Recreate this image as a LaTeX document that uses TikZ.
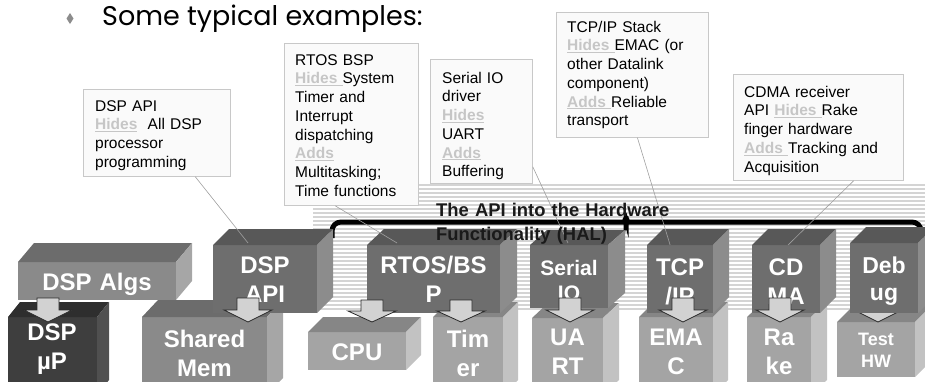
\documentclass[tikz,border=0pt]{standalone}
\usepackage{fontspec}
\setmainfont{Liberation Sans}
\newfontfamily\titlefont{Poppins}
\usetikzlibrary{calc}

\definecolor{stripecol}{HTML}{D4D4D4}
\definecolor{boxfill}{HTML}{FAFAFA}
\definecolor{boxline}{HTML}{C8C8C8}
\definecolor{hidecol}{HTML}{C6C6C6}
\definecolor{leadcol}{HTML}{A0A0A0}
\definecolor{arrowfill}{HTML}{D2D2D2}
\definecolor{arrowline}{HTML}{2A2A2A}
\definecolor{bulletcol}{HTML}{8C8C8C}
\definecolor{halcol}{HTML}{1A1A1A}
% block palettes: front / top / side faces
\definecolor{midfront}{HTML}{8A8A8A}\definecolor{midtop}{HTML}{6C6C6C}\definecolor{midside}{HTML}{A6A6A6}
\definecolor{darkfront}{HTML}{3E3E3E}\definecolor{darktop}{HTML}{2E2E2E}\definecolor{darkside}{HTML}{505050}
\definecolor{upfront}{HTML}{6E6E6E}\definecolor{uptop}{HTML}{585858}\definecolor{upside}{HTML}{8C8C8C}
\definecolor{lightfront}{HTML}{A4A4A4}\definecolor{lighttop}{HTML}{868686}\definecolor{lightside}{HTML}{C2C2C2}

\newcommand\hl[1]{\textcolor{hidecol}{\bfseries\underline{#1}}}

\tikzset{
  cubefront/.style={inner sep=0pt, outer sep=0pt, draw=none, anchor=north west},
  cubelabel/.style={text=white, font=\bfseries\fontsize{24}{29}\selectfont, align=center,
    text width=#1, inner sep=0pt, anchor=base},
  callbox/.style={draw=boxline, fill=boxfill, line width=0.8pt, inner sep=0pt, anchor=north west},
  calltext/.style={font=\fontsize{15.5}{18.75}\selectfont, text width=#1, align=left,
    inner sep=0pt, anchor=base west},
  leader/.style={draw=leadcol, line width=0.6pt},
  brace/.style={line width=5pt, black, rounded corners=9pt},
  blockarrow/.style={fill=arrowfill, draw=arrowline, line width=0.8pt, line join=miter},
  stripe/.style={fill=stripecol},
}

% 3-D block: name, x1, y1, x2, y2 of the front face, depth dx, dy, palette
\newcommand\cube[8]{%
  \node[cubefront, fill=#8front, minimum width={#4-#2}, minimum height={#5-#3}] (#1) at (#2,#3) {};
  \fill[#8top] (#1.north west) -- ++(#6,#7) -- ([shift={(#6,#7)}]#1.north east) -- (#1.north east) -- cycle;
  \fill[#8side] (#1.north east) -- ++(#6,#7) -- ([shift={(#6,#7)}]#1.south east) -- (#1.south east) -- cycle;
}

% block arrow pointing down: centre x, top y, tip y
\newcommand\blockarrow[3]{%
  \draw[blockarrow] (#1-11,#2) -- (#1+11,#2) -- (#1+11,{(#2+#3)/2}) -- (#1+24,{(#2+#3)/2})
    -- (#1,#3) -- (#1-24,{(#2+#3)/2}) -- (#1-11,{(#2+#3)/2}) -- cycle;
}

\begin{document}
\begin{tikzpicture}[x=1pt,y=-1pt]
\path[use as bounding box] (0,0) rectangle (925,381);
\clip (0,0) rectangle (925,381);

% striped backdrop
\foreach \yy in {184,188,...,308} \fill[stripe] (313,\yy) rectangle (925,\yy+2);

% brace over the HAL components
\draw[brace] (332,238) -- (332,222) -- (618,222) to[out=0,in=-90] (626,211)
  to[out=-90,in=180] (634,222) -- (921,222) -- (921,238);

% lower row
\cube{dspalgs}{18}{262}{176}{300}{16}{-19}{mid}
\cube{dspup}{8}{317}{97}{395}{12}{-15}{dark}
\cube{sharedmem}{142}{317}{267}{395}{16}{-17}{mid}
\cube{cpu}{308}{332}{406}{370}{15}{-15}{light}
\cube{timer}{433}{317}{503}{395}{15}{-15}{light}
\cube{uart}{532}{318}{603}{395}{16}{-15}{light}
\cube{emac}{639}{317}{713}{395}{15}{-15}{light}
\cube{rake}{747}{317}{811}{395}{16}{-15}{light}
\cube{testhw}{837}{322}{915}{377}{16}{-16}{light}

\blockarrow{878}{298}{322}

% upper row
\cube{dspapi}{213}{245}{317}{313}{16}{-16}{up}
\cube{rtos}{367}{245}{500}{313}{17}{-16}{up}
\cube{serial}{530}{245}{608}{308}{17}{-15}{up}
\cube{tcp}{647}{245}{713}{313}{16}{-16}{up}
\cube{cdma}{752}{245}{820}{313}{16}{-16}{up}
\cube{debug}{850}{243}{918}{313}{16}{-16}{up}

% block labels
\node[cubelabel=150] (dspalgs-t) at (97,290) {DSP Algs};
\node[cubelabel=88] (dspup-t) at (52,340) {DSP\\µP};
\node[cubelabel=120] (sharedmem-t) at (204.5,347) {Shared\\Mem};
\node[cubelabel=96] (cpu-t) at (357,360) {CPU};
\node[cubelabel=70] (timer-t) at (468,347) {Tim\\er};
\node[cubelabel=70] (uart-t) at (567.5,345) {UA\\RT};
\node[cubelabel=74] (emac-t) at (676,345) {EMA\\C};
\node[cubelabel=64] (rake-t) at (779,345) {Ra\\ke};
\node[cubelabel=78, font=\bfseries\fontsize{18}{22}\selectfont] (testhw-t) at (876,345) {Test\\HW};
\node[cubelabel=104] (dspapi-t) at (265,273) {DSP\\API};
\node[cubelabel=133] (rtos-t) at (433.5,273) {RTOS/BS\\P};
\node[cubelabel=78, font=\bfseries\fontsize{21}{25}\selectfont] (serial-t) at (569,275) {Serial\\IO};
\node[cubelabel=66] (tcp-t) at (680,275) {TCP\\/IP};
\node[cubelabel=68] (cdma-t) at (786,275) {CD\\MA};
\node[cubelabel=68, font=\bfseries\fontsize{23}{27}\selectfont] (debug-t) at (884,273) {Deb\\ug};

% layer arrows
\blockarrow{48}{298}{322}
\blockarrow{248}{298}{322}
\blockarrow{372}{300}{322}
\blockarrow{461}{300}{322}
\blockarrow{570}{298}{322}
\blockarrow{683}{298}{322}
\blockarrow{780}{298}{322}

% callout boxes
\node[callbox, minimum width=147, minimum height=87] (c1) at (83,89) {};
\node[callbox, minimum width=134, minimum height=162] (c2) at (284,43) {};
\node[callbox, minimum width=102, minimum height=124] (c3) at (430,59) {};
\node[callbox, minimum width=152, minimum height=125] (c4) at (556,12) {};
\node[callbox, minimum width=170, minimum height=106] (c5) at (733,74) {};

% leaders from callouts to blocks
\draw[leader] ($(c1.south west)!0.76!(c1.south east)$) -- ($(dspapi.north west)!0.337!(dspapi.north east)+(0,-2)$);
\draw[leader] ($(c2.south west)!0.38!(c2.south east)$) -- ($(rtos.north west)!0.226!(rtos.north east)+(0,-2)$);
\draw[leader] ($(c3.south east)+(0,-17)$) -- ($(serial.north west)!0.487!(serial.north east)+(0,-2)$);
\draw[leader] ($(c4.south west)!0.533!(c4.south east)$) -- ($(tcp.north west)!0.35!(tcp.north east)$);
\draw[leader] ($(c5.south west)!0.706!(c5.south east)$) -- ($(cdma.north west)!0.53!(cdma.north east)$);

% callout texts
\node[calltext=135] (c1-t) at (95,111) {DSP API\\\hl{Hides}\ \ All DSP\\processor\\programming};
\node[calltext=122] (c2-t) at (295,65) {RTOS BSP\\\hl{Hides }System\\Timer and\\Interrupt\\dispatching\\\hl{Adds}\\Multitasking;\\Time functions};
\node[calltext=90] (c3-t) at (442,83) {Serial IO\\driver\\\hl{Hides}\\UART\\\hl{Adds}\\Buffering};
\node[calltext=140] (c4-t) at (567,32) {TCP/IP Stack\\\hl{Hides }EMAC (or\\other Datalink\\component)\\\hl{Adds }Reliable\\transport};
\node[calltext=158] (c5-t) at (744,97) {CDMA receiver\\API \hl{Hides }Rake\\finger hardware\\\hl{Adds }Tracking and\\Acquisition};

% HAL caption
\node[anchor=base west, text width=260, align=left, inner sep=0pt, text=halcol,
  font=\bfseries\fontsize{18.4}{24}\selectfont] (hal) at (436,216)
  {The API into the Hardware\\Functionality (HAL)};

% heading
\fill[bulletcol] (70,13) -- (73.5,18.5) -- (70,24) -- (66.5,18.5) -- cycle;
\node[anchor=base west, inner sep=0pt, font=\titlefont\fontsize{27}{30}\selectfont] (title) at (102,25)
  {Some typical examples:};
\end{tikzpicture}
\end{document}
